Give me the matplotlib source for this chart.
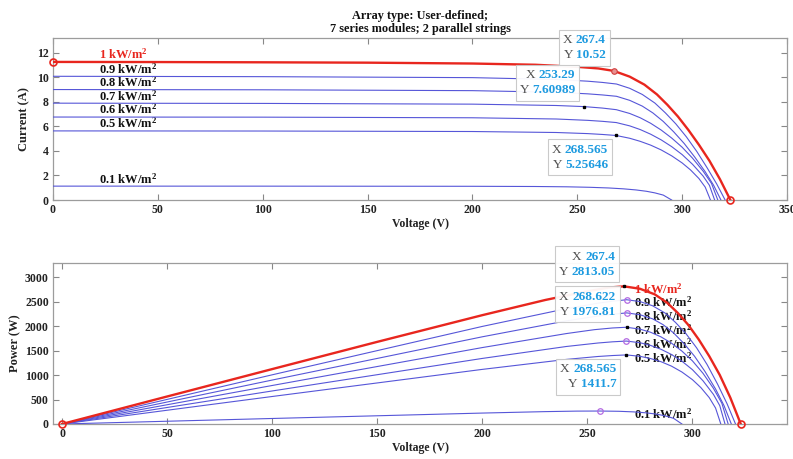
import matplotlib
matplotlib.use('Agg')
import matplotlib.pyplot as plt
from matplotlib.patches import Rectangle

plt.rcParams['font.family'] = ['Liberation Serif', 'DejaVu Serif']
plt.rcParams['font.weight'] = 'bold'
plt.rcParams['mathtext.fontset'] = 'custom'
plt.rcParams['mathtext.rm'] = 'Liberation Serif:bold'
plt.rcParams['mathtext.it'] = 'Liberation Serif:bold'
plt.rcParams['mathtext.bf'] = 'Liberation Serif:bold'

# ---------------- data ----------------
irradiance_labels = ['1 kW/m$^2$', '0.9 kW/m$^2$', '0.8 kW/m$^2$', '0.7 kW/m$^2$',
                     '0.6 kW/m$^2$', '0.5 kW/m$^2$', '0.1 kW/m$^2$']

v_100 = [0, 50, 100, 150, 200, 230, 250, 260, 267.4, 275, 282, 288, 293, 298, 303, 308, 313, 318, 323]
i_100 = [11.25, 11.24, 11.22, 11.19, 11.12, 11.02, 10.85, 10.72, 10.52, 10.05, 9.4, 8.6, 7.75, 6.8, 5.7, 4.5, 3.2, 1.7, 0]

v_090 = [0, 100, 200, 240, 255, 262, 268.7, 275, 281, 287, 292, 297, 302, 307, 312, 316.5, 320.5]
i_090 = [10.08, 10.05, 9.97, 9.82, 9.68, 9.58, 9.45, 9.1, 8.6, 7.9, 7.1, 6.2, 5.15, 3.95, 2.6, 1.3, 0]

v_080 = [0, 100, 200, 240, 255, 262, 268.7, 275, 281, 286, 291, 296, 301, 306, 311, 315, 318.5]
i_080 = [9.0, 8.98, 8.91, 8.78, 8.65, 8.56, 8.45, 8.12, 7.65, 7.1, 6.4, 5.55, 4.6, 3.5, 2.3, 1.2, 0]

v_070 = [0, 100, 200, 240, 253.29, 262, 268.622, 275, 280, 285, 290, 295, 300, 305, 310, 314, 317]
i_070 = [7.89, 7.87, 7.81, 7.70, 7.60989, 7.49, 7.359, 7.05, 6.7, 6.25, 5.7, 5.05, 4.3, 3.4, 2.35, 1.35, 0]

v_060 = [0, 100, 200, 240, 255, 262, 268.6, 275, 280, 285, 290, 295, 300, 305, 310, 313, 315.5]
i_060 = [6.76, 6.75, 6.70, 6.60, 6.49, 6.41, 6.31, 6.04, 5.74, 5.36, 4.9, 4.35, 3.7, 2.9, 1.95, 1.2, 0]

v_050 = [0, 100, 200, 240, 255, 262, 268.565, 275, 280, 285, 290, 295, 300, 304, 308, 311, 313.5]
i_050 = [5.63, 5.62, 5.58, 5.50, 5.41, 5.34, 5.25646, 5.03, 4.78, 4.47, 4.08, 3.6, 3.02, 2.45, 1.75, 1.05, 0]

v_010 = [0, 100, 200, 230, 245, 256, 265, 272, 278, 283, 287, 291, 295]
i_010 = [1.13, 1.128, 1.117, 1.10, 1.075, 1.035, 0.98, 0.91, 0.82, 0.71, 0.58, 0.40, 0]

# maximum power points (voltage, power) for each curve
mpp_v = [267.4, 268.7, 268.7, 268.622, 268.6, 268.565, 256.0]
mpp_p = [2813.05, 2539.2, 2270.5, 1976.81, 1694.9, 1411.7, 265.0]

# data tips (I-V plot and P-V plot)
tip_iv = [(267.4, 10.52), (253.29, 7.60989), (268.565, 5.25646)]
tip_pv = [(267.4, 2813.05), (268.622, 1976.81), (268.565, 1411.7)]

curves_v = [v_100, v_090, v_080, v_070, v_060, v_050, v_010]
curves_i = [i_100, i_090, i_080, i_070, i_060, i_050, i_010]

RED = '#e8261e'
BLUE = '#5656d8'
VIOLET = '#b36ae2'
TIPBLUE = '#1e9be0'

W, H = 793, 459
fig = plt.figure(figsize=(W / 100, H / 100), dpi=100)
ax1 = fig.add_axes([53 / W, 1 - 200 / H, (787 - 53) / W, (200 - 38) / H])
ax2 = fig.add_axes([53 / W, 1 - 424 / H, (787 - 53) / W, (424 - 263) / H])

for ax in (ax1, ax2):
    for s in ax.spines.values():
        s.set_color('#9c9c9c')
        s.set_linewidth(0.9)
    ax.tick_params(direction='in', top=True, right=True, length=4, width=0.8,
                   color='#888888', labelcolor='#222222', labelsize=8.5, pad=3)

# ---------------- I-V plot ----------------
for k in range(len(curves_v) - 1, -1, -1):
    v, i = curves_v[k], curves_i[k]
    if k == 0:
        ax1.plot(v, i, color=RED, lw=1.7, zorder=4)
    else:
        ax1.plot(v, i, color=BLUE, lw=0.8, zorder=3)
    ax1.annotate(irradiance_labels[k], xy=(22, i[0]), xytext=(0, 0), textcoords='offset pixels',
                 ha='left', va='bottom', fontsize=9, fontweight='bold',
                 color=RED if k == 0 else '#111111', zorder=2)

ax1.plot([v_100[0], v_100[-1]], [i_100[0], i_100[-1]], 'o', ms=5, mfc='none', mec=RED, mew=1.2,
         zorder=6, clip_on=False)
ax1.plot([tip_iv[0][0]], [tip_iv[0][1]], 'o', ms=4, mfc='#e89090', mec='#d04040', mew=0.8, zorder=6)
ax1.plot([t[0] for t in tip_iv[1:]], [t[1] for t in tip_iv[1:]], 's', ms=1.8, color='black', zorder=6)

ax1.set_xlim(0, 350)
ax1.set_ylim(0, 13.2)
ax1.set_xticks(range(0, 351, 50))
ax1.set_yticks(range(0, 13, 2))
ax1.set_xlabel('Voltage (V)', fontsize=8.5, fontweight='bold', labelpad=1, color='#222222')
ax1.set_ylabel('Current (A)', fontsize=9, fontweight='bold', labelpad=5, color='#222222')
ax1.set_title('Array type: User-defined;\n7 series modules; 2 parallel strings',
              fontsize=8.8, fontweight='bold', pad=4, linespacing=1.15, color='#111111')

# ---------------- P-V plot ----------------
for k in range(len(curves_v) - 1, -1, -1):
    v, i = curves_v[k], curves_i[k]
    p = [a * b for a, b in zip(v, i)]
    if k == 0:
        ax2.plot(v, p, color=RED, lw=1.7, zorder=4)
    else:
        ax2.plot(v, p, color=BLUE, lw=0.8, zorder=3)
    ax2.annotate(irradiance_labels[k], xy=(272, mpp_p[k]), xytext=(0, -3), textcoords='offset pixels',
                 ha='left', va='center', fontsize=9, fontweight='bold',
                 color=RED if k == 0 else '#111111', zorder=2)

ax2.plot([0, v_100[-1]], [0, 0], 'o', ms=5, mfc='none', mec=RED, mew=1.2, zorder=6, clip_on=False)
for k in range(len(mpp_v)):
    if k in (0, 3, 5):
        ax2.plot([mpp_v[k]], [mpp_p[k]], 's', ms=1.8, color='black', zorder=6)
    else:
        ax2.plot([mpp_v[k]], [mpp_p[k]], 'o', ms=4, mfc='none', mec=VIOLET, mew=0.9, zorder=6)

ax2.set_xlim(-4.3, 345)
ax2.set_ylim(0, 3290)
ax2.set_xticks(range(0, 301, 50))
ax2.set_yticks(range(0, 3001, 500))
ax2.set_xlabel('Voltage (V)', fontsize=8.5, fontweight='bold', labelpad=1, color='#222222')
ax2.set_ylabel('Power (W)', fontsize=9, fontweight='bold', labelpad=3, color='#222222')

# ---------------- data tips ----------------
FS = 9.5
LH = 15.0   # line height in pixels
PAD = 4.0

tip_specs = [(ax1, tip_iv[0], -4, 4, 'bottom'),
             (ax1, tip_iv[1], -5, 5, 'bottom'),
             (ax1, tip_iv[2], -4, -3, 'top'),
             (ax2, tip_pv[0], -5, 3, 'bottom'),
             (ax2, tip_pv[1], -7, 4, 'bottom'),
             (ax2, tip_pv[2], -6, -3, 'top')]

fig.canvas.draw()
r = fig.canvas.get_renderer()
for ax, (x, y), dx, dy, va in tip_specs:
    mx, my = ax.transData.transform((x, y))
    right = mx + dx - PAD
    if va == 'bottom':
        y2 = my + dy + PAD + LH / 2
        y1 = y2 + LH
    else:
        y1 = my + dy - PAD - LH / 2
        y2 = y1 - LH
    arts = []
    for lab, val, yc in (('X', '%g' % x, y1), ('Y', '%g' % y, y2)):
        t = fig.text(right / W, yc / H, val, ha='right', va='center', fontsize=FS,
                     fontweight='bold', color=TIPBLUE, zorder=10)
        lt = plt.Annotation(lab + ' ', xy=(0, 0.5), xycoords=t, ha='right', va='center',
                            fontsize=FS, fontweight='normal', color='#505050', zorder=10)
        fig.add_artist(lt)
        arts += [t, lt]
    fig.canvas.draw()
    bbs = [a.get_window_extent(r) for a in arts]
    x0 = min(b.x0 for b in bbs) - PAD
    x1 = max(b.x1 for b in bbs) + PAD
    yb = min(y1, y2) - LH / 2 - PAD + 1
    yt = max(y1, y2) + LH / 2 + PAD - 1
    fig.add_artist(Rectangle((x0 / W, yb / H), (x1 - x0) / W, (yt - yb) / H,
                             transform=fig.transFigure, fc='white', ec='#c8c8c8',
                             lw=0.8, alpha=0.95, zorder=9))

fig.savefig('out.png', dpi=100)
